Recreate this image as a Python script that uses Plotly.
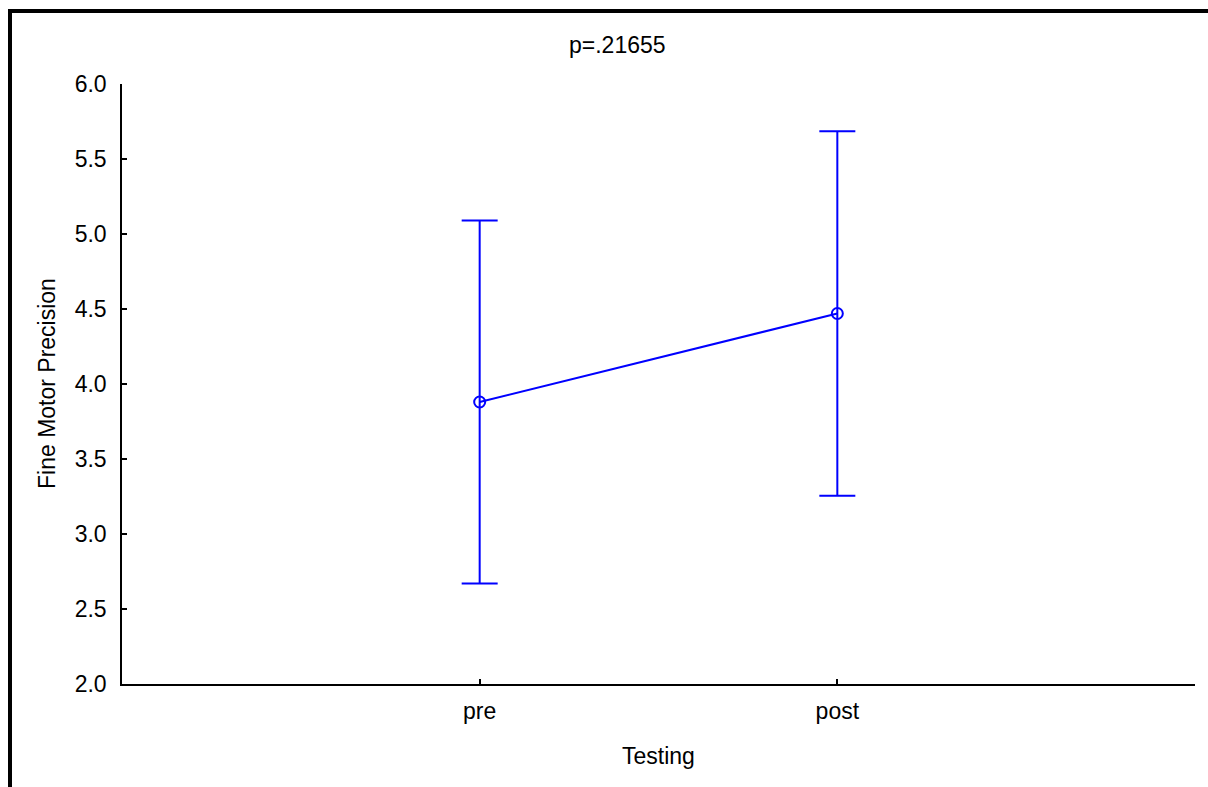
import plotly.graph_objects as go

# Group means with confidence-interval half-widths
conditions = ["pre", "post"]
cond_pos = [1, 2]
means = [3.88, 4.47]
ci_half = [1.21, 1.215]

y_ticks = [2.0, 2.5, 3.0, 3.5, 4.0, 4.5, 5.0, 5.5, 6.0]
p_label = "p=.21655"

W, H = 1208, 787
L, R, T, B = 122, 13, 84, 103
pw, ph = W - L - R, H - T - B

def px_x(px):
    return (px - L) / pw

def px_y(py):
    return (H - B - py) / ph

BLUE = "#0000FF"
FONT = "Liberation Sans, Arial, sans-serif"
FS = 23

fig = go.Figure()
fig.add_trace(go.Scatter(
    x=cond_pos, y=means,
    mode="lines+markers",
    line=dict(color=BLUE, width=2),
    marker=dict(symbol="circle-open", size=11, color=BLUE, line=dict(width=2, color=BLUE)),
    error_y=dict(type="data", array=ci_half, visible=True, color=BLUE, thickness=2, width=18),
    showlegend=False,
    cliponaxis=False,
))

axis_common = dict(
    showline=True, linecolor="black", linewidth=1.5,
    ticks="inside", ticklen=5, tickwidth=1.5, tickcolor="black",
    showgrid=False, zeroline=False,
    tickfont=dict(family=FONT, size=FS, color="black"),
)

fig.update_xaxes(
    range=[0, 3], tickvals=[0] + cond_pos + [3], ticktext=[""] + conditions + [""],
    ticklabelstandoff=6, **axis_common,
)
fig.update_yaxes(
    range=[2.0, 6.0], tickvals=y_ticks, ticktext=[f"{v:.1f}" for v in y_ticks],
    ticklabelstandoff=9, **axis_common,
)

annotations = [
    dict(text=p_label, x=px_x(617), y=px_y(45), xref="paper", yref="paper",
         showarrow=False, xanchor="center", yanchor="middle",
         font=dict(family=FONT, size=FS, color="black")),
    dict(text="Testing", x=px_x(658), y=px_y(756), xref="paper", yref="paper",
         showarrow=False, xanchor="center", yanchor="middle",
         font=dict(family=FONT, size=FS, color="black")),
    dict(text="Fine Motor Precision", x=px_x(47), y=0.5, xref="paper", yref="paper",
         showarrow=False, xanchor="center", yanchor="middle", textangle=-90,
         font=dict(family=FONT, size=FS, color="black")),
]

# Outer frame (left and top edges)
shapes = [
    dict(type="line", xref="paper", yref="paper", x0=px_x(10), x1=px_x(W + 5),
         y0=px_y(11), y1=px_y(11), line=dict(color="black", width=4)),
    dict(type="line", xref="paper", yref="paper", x0=px_x(10), x1=px_x(10),
         y0=px_y(9), y1=px_y(H + 5), line=dict(color="black", width=4)),
]

fig.update_layout(
    width=W, height=H,
    margin=dict(l=L, r=R, t=T, b=B),
    paper_bgcolor="white", plot_bgcolor="white",
    annotations=annotations, shapes=shapes,
    font=dict(family=FONT, size=FS, color="black"),
)

fig.write_html("out.html")
